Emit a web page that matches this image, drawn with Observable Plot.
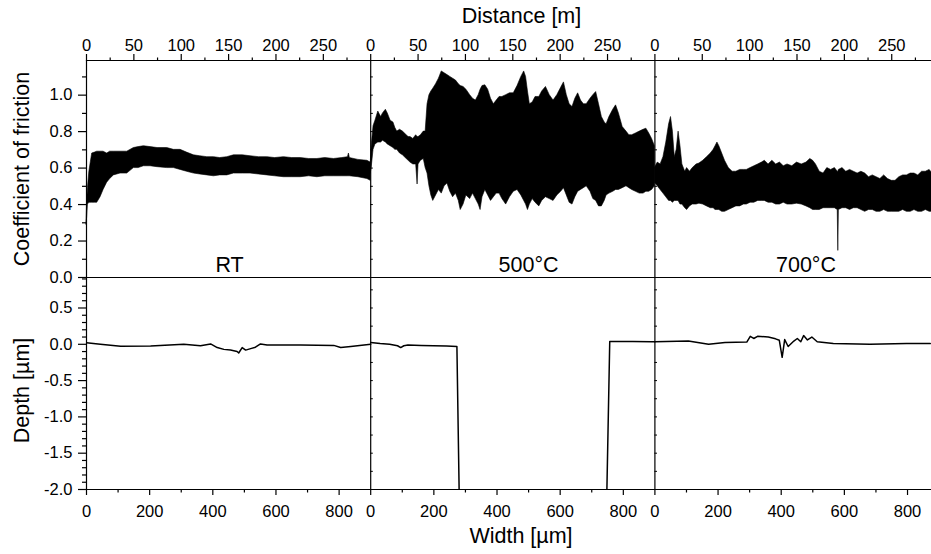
<!DOCTYPE html>
<html><head><meta charset="utf-8">
<script src="https://cdn.jsdelivr.net/npm/d3@7"></script>
<script src="https://cdn.jsdelivr.net/npm/@observablehq/plot@0.6"></script>
<style>
body{margin:0;background:#fff;}
#chart{position:relative;width:931px;height:554px;overflow:hidden;background:#fff;}
#chart svg{position:absolute;left:0;overflow:visible;}
</style></head><body><div id="chart"></div>
<script>
// ---- data ----
const panels = ["RT", "500°C", "700°C"];
// coefficient of friction band: [distance m, lower envelope, upper envelope]
const cofRT = [
 [0,0.29,0.30],[0.7,0.33,0.42],[1.5,0.40,0.49],[3,0.41,0.58],[4.2,0.41,0.62],[6,0.41,0.68],[9,0.41,0.685],
 [11.3,0.41,0.69],[14.8,0.44,0.69],[18,0.48,0.69],[21.8,0.52,0.68],[25,0.54,0.69],[28.9,0.56,0.69],[35.9,0.57,0.69],
 [43,0.57,0.69],[50,0.60,0.71],[55,0.60,0.715],[60.6,0.61,0.72],[67.6,0.61,0.715],[75,0.605,0.71],[85.2,0.60,0.71],
 [92.2,0.60,0.70],[99.3,0.59,0.70],[106,0.58,0.685],[113.4,0.57,0.67],[120,0.565,0.665],[127.5,0.56,0.66],
 [134.5,0.555,0.66],[141,0.56,0.655],[148.6,0.56,0.66],[155.6,0.57,0.67],[165,0.57,0.67],[173.2,0.57,0.665],
 [182,0.565,0.66],[190.9,0.56,0.66],[199,0.555,0.655],[208.4,0.55,0.66],[217,0.55,0.655],[226,0.55,0.655],
 [235,0.555,0.65],[243.7,0.55,0.65],[252,0.555,0.655],[261.2,0.555,0.65],[270,0.555,0.655],[276,0.555,0.66],
 [277,0.555,0.68],[278,0.555,0.655],[287,0.55,0.645],[296.5,0.54,0.64],[300,0.53,0.63]
];
const cof500 = [
 [0,0.57,0.62],[1,0.60,0.72],[3,0.70,0.83],[5,0.73,0.86],[8,0.74,0.91],[11,0.74,0.88],[13,0.75,0.90],[16,0.74,0.92],
 [18,0.73,0.90],[21,0.72,0.86],[24,0.71,0.85],[26,0.70,0.82],[28,0.70,0.80],[31,0.68,0.81],[34,0.67,0.80],
 [38,0.65,0.78],[40,0.64,0.77],[42,0.63,0.77],[45,0.62,0.76],[48,0.62,0.78],[49.5,0.51,0.77],[50.5,0.62,0.77],
 [53,0.64,0.78],[56,0.65,0.80],[58,0.60,0.80],[60,0.57,0.95],[62,0.50,1.00],[64,0.45,1.02],[66,0.42,1.035],
 [69,0.45,1.06],[72,0.48,1.09],[75,0.46,1.13],[78,0.50,1.12],[81,0.515,1.11],[84,0.47,1.10],[87,0.44,1.09],
 [90,0.46,1.08],[93,0.42,1.06],[95,0.37,1.05],[98,0.40,1.045],[101,0.45,1.03],[105,0.43,1.00],[108,0.46,0.98],
 [111,0.43,0.97],[114,0.40,1.00],[116,0.37,1.03],[118,0.44,1.05],[121,0.48,1.054],[124,0.45,1.03],[127,0.42,0.98],
 [130,0.44,0.95],[133,0.46,0.97],[136,0.46,0.99],[139,0.43,0.99],[143,0.40,1.00],[147,0.44,1.01],[151,0.47,1.01],
 [155,0.48,1.05],[159,0.45,1.10],[162,0.42,1.13],[164,0.40,1.10],[166,0.37,1.02],[168,0.40,0.95],[171,0.43,0.96],
 [174,0.41,0.99],[178,0.39,0.99],[181,0.42,1.02],[185,0.44,1.045],[189,0.43,1.00],[193,0.42,0.97],[197,0.45,1.00],
 [201,0.47,1.04],[204,0.49,1.07],[207,0.45,1.00],[210,0.41,0.95],[213,0.40,0.935],[216,0.44,0.98],[219,0.47,1.01],
 [222,0.48,0.97],[225,0.49,0.95],[228,0.50,0.95],[232,0.47,0.98],[235,0.43,1.00],[238,0.42,1.017],[241,0.39,0.95],
 [244,0.39,0.88],[247,0.42,0.85],[249,0.45,0.84],[252,0.46,0.88],[256,0.47,0.92],[259,0.48,0.944],[262,0.48,0.90],
 [266,0.49,0.825],[270,0.50,0.80],[273,0.49,0.78],[276,0.48,0.78],[280,0.47,0.79],[284,0.46,0.80],[288,0.46,0.81],
 [291,0.47,0.816],[294,0.47,0.79],[297,0.48,0.76],[300,0.50,0.72]
];
const cof700 = [
 [0,0.52,0.60],[3,0.50,0.63],[6,0.48,0.62],[9,0.46,0.66],[12,0.44,0.74],[15,0.42,0.84],[17,0.42,0.88],[19,0.41,0.80],
 [21,0.42,0.66],[23,0.42,0.70],[25,0.42,0.80],[27,0.40,0.72],[29,0.40,0.62],[32,0.38,0.58],[34,0.37,0.60],
 [37,0.39,0.58],[40,0.40,0.60],[44,0.40,0.62],[47,0.405,0.625],[51,0.40,0.64],[55,0.39,0.66],[59,0.38,0.68],
 [62,0.38,0.70],[64,0.37,0.72],[66,0.37,0.74],[68,0.37,0.72],[71,0.36,0.68],[74,0.36,0.64],[78,0.37,0.60],
 [82,0.38,0.58],[86,0.39,0.58],[90,0.39,0.59],[94,0.40,0.59],[97,0.40,0.59],[101,0.41,0.60],[105,0.41,0.61],
 [109,0.42,0.62],[113,0.42,0.63],[116,0.42,0.64],[120,0.41,0.62],[124,0.41,0.64],[128,0.40,0.62],[132,0.40,0.63],
 [136,0.41,0.61],[140,0.40,0.62],[145,0.40,0.61],[150,0.405,0.63],[155,0.40,0.62],[160,0.39,0.63],[164,0.38,0.65],
 [167,0.37,0.64],[170,0.37,0.62],[174,0.37,0.58],[178,0.38,0.57],[182,0.38,0.60],[186,0.38,0.59],[190,0.38,0.60],
 [193,0.37,0.58],[193.6,0.146,0.58],[194.2,0.37,0.59],[198,0.38,0.60],[202,0.38,0.58],[206,0.37,0.59],[210,0.38,0.58],
 [214,0.38,0.57],[218,0.37,0.58],[222,0.36,0.57],[226,0.37,0.55],[230,0.37,0.56],[234,0.36,0.55],[238,0.36,0.54],
 [242,0.37,0.56],[246,0.36,0.54],[250,0.36,0.53],[254,0.36,0.53],[258,0.36,0.55],[262,0.37,0.56],[266,0.36,0.56],
 [270,0.36,0.57],[274,0.37,0.57],[278,0.36,0.56],[282,0.36,0.58],[286,0.37,0.58],[290,0.36,0.59],[293,0.36,0.57]
];
// depth profiles: [width µm, depth µm]  (NaN = off-scale, below -2.0)
const depthRT = [
 [0,0.02],[44,0.0],[108,-0.027],[203,-0.025],[308,0.0],[361,-0.02],[393,0.005],[414,-0.045],[435,-0.07],[456,-0.08],
 [477,-0.10],[482,-0.12],[493,-0.045],[504,-0.08],[520,-0.06],[535,-0.04],[551,0.005],[572,-0.01],[678,-0.01],
 [783,-0.015],[805,-0.045],[837,-0.03],[900,0.0]
];
const depth500 = [
 [0,0.025],[30,0.01],[60,0.0],[85,-0.02],[95,-0.045],[105,-0.02],[118,-0.01],[160,-0.015],[199,-0.02],[240,-0.025],
 [273,-0.03],[280,-2.0],[514,NaN],[748,-2.0],[757,0.04],[776,0.04],[830,0.04],[891,0.035],[900,0.035]
];
const depth700 = [
 [0,0.035],[106,0.045],[170,0.0],[222,0.025],[291,0.03],[302,0.11],[313,0.08],[325,0.11],[359,0.10],[382,0.075],
 [394,0.055],[403,-0.18],[411,0.065],[422,-0.03],[440,0.045],[451,0.08],[462,0.035],[471,0.12],[483,0.06],[497,0.10],
 [514,0.035],[565,0.01],[681,0.0],[797,0.01],[872,0.01]
];
// tick values
const distTicks = [0, 50, 100, 150, 200, 250];
const distMinor = [25, 75, 125, 175, 225, 275];
const widthTicks = [0, 200, 400, 600, 800];
const widthMinor = [100, 300, 500, 700];
const cofTicks = [0, 0.2, 0.4, 0.6, 0.8, 1.0];
const cofMinor = [0.1, 0.3, 0.5, 0.7, 0.9, 1.1];
const depthTicks = [-2.0, -1.5, -1.0, -0.5, 0.0, 0.5];
const depthMinor = [-1.9,-1.8,-1.7,-1.6,-1.4,-1.3,-1.2,-1.1,-0.9,-0.8,-0.7,-0.6,-0.4,-0.3,-0.2,-0.1,0.1,0.2,0.3,0.4,0.6,0.7,0.8,0.9];
const dividerDepthTicks = [-1.75,-1.5,-1.25,-1.0,-0.75,-0.5,-0.25,0.25,0.5,0.75];

// ---- layout ----
const W = 931, ML = 86, PANEL_PX = 284.2;
const P_DIST = 300, P_WIDTH = 900;
const xMaxDist = P_DIST * (W - ML) / PANEL_PX;
const xMaxWidth = P_WIDTH * (W - ML) / PANEL_PX;
const labelPos = [151, 166.6, 159.5];
const idx = [0, 1, 2];
const font = '"Liberation Sans", Arial, Helvetica, sans-serif';
const style = {fontFamily: font, fontSize: "16.5px", color: "black", background: "transparent", overflow: "visible"};
const tickLenDist = 2.6 * P_DIST / PANEL_PX;   // tiny inner ticks on panel dividers (2.6 px)
const tickLenWidth = 2.6 * P_WIDTH / PANEL_PX;

const topData = [cofRT, cof500, cof700].flatMap((arr, p) => arr.map(([d, lo, hi]) => ({p, x: p * P_DIST + d, lo, hi})));
const botData = [depthRT, depth500, depth700].flatMap((arr, p) => arr.map(([w, z]) => ({p, x: p * P_WIDTH + w, y: z})));
const topDivTicks = [1, 2].flatMap(p => [...cofTicks, ...cofMinor].map(v => ({p, v})));
const botDivTicks = [1, 2].flatMap(p => dividerDepthTicks.map(v => ({p, v})));

const topPlot = Plot.plot({
  width: W, height: 278, marginLeft: ML, marginRight: 0, marginTop: 60, marginBottom: 1,
  style,
  x: {domain: [0, xMaxDist]},
  y: {domain: [0, 1.19]},
  marks: [
    Plot.areaY(topData, {x: "x", y1: "lo", y2: "hi", z: "p", fill: "black", stroke: "black", strokeWidth: 0.6}),
    Plot.ruleY(topDivTicks, {y: "v", x1: d => d.p * P_DIST, x2: d => d.p * P_DIST + tickLenDist, stroke: "black", strokeWidth: 1}),
    Plot.ruleX([0, P_DIST, 2 * P_DIST], {stroke: "black", strokeWidth: 1.2}),
    Plot.ruleY([0, 1.19], {stroke: "black", strokeWidth: 1.2}),
    Plot.axisX({anchor: "top", ticks: idx.flatMap(p => distTicks.map(t => p * P_DIST + t)),
      tickFormat: d => String(Math.round(d % P_DIST)), tickSize: 7, tickPadding: 3, strokeWidth: 1.2, label: null}),
    Plot.axisX({anchor: "top", ticks: idx.flatMap(p => distMinor.map(t => p * P_DIST + t)),
      tickFormat: () => "", tickSize: 3.5, strokeWidth: 1.2, label: null}),
    Plot.axisY({anchor: "left", ticks: cofTicks, tickFormat: d => d.toFixed(1), tickSize: 8, tickPadding: 6, strokeWidth: 1.2, label: null}),
    Plot.axisY({anchor: "left", ticks: cofMinor, tickFormat: () => "", tickSize: 4, strokeWidth: 1.2, label: null}),
    Plot.text(panels, {x: (d, i) => i * P_DIST + labelPos[i], frameAnchor: "bottom", lineAnchor: "bottom", dy: -5.3,
      text: d => d, fontSize: 21.5, fill: "black"}),
    Plot.text(["Distance [m]"], {frameAnchor: "top", lineAnchor: "bottom", textAnchor: "middle", dx: 12.5, dy: -37.6,
      text: d => d, fontSize: 21.5, fill: "black"}),
    Plot.text(["Coefficient of friction"], {frameAnchor: "left", rotate: -90, textAnchor: "middle", lineAnchor: "middle",
      dx: -64, text: d => d, fontSize: 21.5, fill: "black"})
  ]
});

const botPlot = Plot.plot({
  width: W, height: 277, marginLeft: ML, marginRight: 0, marginTop: 0, marginBottom: 65,
  style,
  x: {domain: [0, xMaxWidth]},
  y: {domain: [-2.0, 0.92]},
  marks: [
    Plot.lineY(botData, {x: "x", y: "y", z: "p", stroke: "black", strokeWidth: 1.5, clip: true}),
    Plot.ruleY(botDivTicks, {y: "v", x1: d => d.p * P_WIDTH, x2: d => d.p * P_WIDTH + tickLenWidth, stroke: "black", strokeWidth: 1}),
    Plot.ruleX([0, P_WIDTH, 2 * P_WIDTH], {stroke: "black", strokeWidth: 1.2}),
    Plot.ruleY([-2.0], {stroke: "black", strokeWidth: 1.2}),
    Plot.axisX({anchor: "bottom", ticks: idx.flatMap(p => widthTicks.map(t => p * P_WIDTH + t)),
      tickFormat: d => String(Math.round(d % P_WIDTH)), tickSize: 6, tickPadding: 10, strokeWidth: 1.2, label: null}),
    Plot.axisX({anchor: "bottom", ticks: idx.flatMap(p => widthMinor.map(t => p * P_WIDTH + t)),
      tickFormat: () => "", tickSize: 3.5, strokeWidth: 1.2, label: null}),
    Plot.axisY({anchor: "left", ticks: depthTicks, tickFormat: d => d.toFixed(1), tickSize: 8, tickPadding: 6, strokeWidth: 1.2, label: null}),
    Plot.axisY({anchor: "left", ticks: depthMinor, tickFormat: () => "", tickSize: 4, strokeWidth: 1.2, label: null}),
    Plot.text(["Width [µm]"], {frameAnchor: "bottom", lineAnchor: "bottom", textAnchor: "middle", dx: 12, dy: 53.4,
      text: d => d, fontSize: 21.5, fill: "black"}),
    Plot.text(["Depth [µm]"], {frameAnchor: "left", rotate: -90, textAnchor: "middle", lineAnchor: "middle",
      dx: -64, dy: 7, text: d => d, fontSize: 21.5, fill: "black"})
  ]
});

const chart = document.getElementById("chart");
topPlot.style.top = "0px";
botPlot.style.top = "277px";
chart.appendChild(topPlot);
chart.appendChild(botPlot);
</script>
</body></html>
